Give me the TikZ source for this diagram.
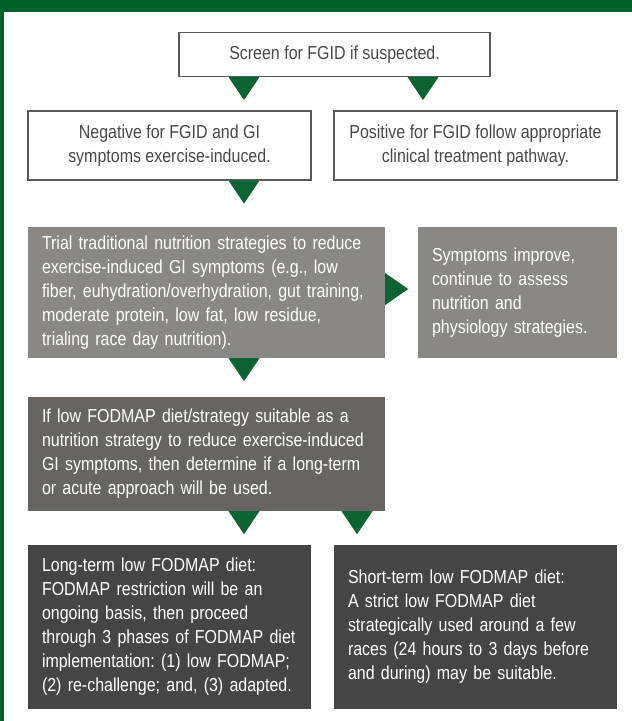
\documentclass[tikz,border=0pt]{standalone}
\usepackage{fontspec}
\setmainfont{Liberation Sans}[FakeStretch=0.85]
\usetikzlibrary{calc}

\definecolor{bandgreen}{RGB}{0,97,43}
\definecolor{headgreen}{RGB}{12,100,52}
\definecolor{boxline}{RGB}{90,90,90}
\definecolor{txtgray}{RGB}{72,72,72}
\definecolor{lightbox}{RGB}{139,135,133}
\definecolor{midbox}{RGB}{104,100,98}
\definecolor{darkbox}{RGB}{69,69,69}

\newcommand{\downhead}[1]{\fill[headgreen] ($(#1)+(-15.5,0)$) -- ++(31,0) -- ++(-15.5,23) -- cycle;}
\newcommand{\righthead}[1]{\fill[headgreen] ($(#1)+(0,-19.5)$) -- ++(0,32) -- ++(23,-16) -- cycle;}

\begin{document}
\frenchspacing
\begin{tikzpicture}[
   x=1pt, y=-1pt,
   every node/.style = {font=\fontsize{18.8}{24}\selectfont, inner sep=0pt},
   outline/.style = {draw=boxline, line width=1.2pt, fill=white, text=txtgray, align=center},
   shaded/.style = {text=white, align=left, inner xsep=14pt}]
   \useasboundingbox (0,0) rectangle (632,721);
   \fill[bandgreen] (0,0) rectangle (632,12);
   \fill[bandgreen] (0,0) rectangle (4,721);

   \coordinate (xa) at (244,0);
   \coordinate (xb) at (423,0);
   \coordinate (xc) at (357,0);

   \node[outline, minimum width=311pt, minimum height=44pt] (screen) at (334.5,54.5) {Screen for FGID if suspected.};

   \node[outline, minimum width=283pt, minimum height=69pt] (neg) at (169.5,145.5) {Negative for FGID and GI\\symptoms exercise-induced.};
   \node[outline, minimum width=283pt, minimum height=69pt] (pos) at (475.5,145.5) {Positive for FGID follow appropriate\\clinical treatment pathway.};

   \node[shaded, fill=lightbox, minimum height=131pt, text width=329pt] (trial) at (206.5,292.5)
      {Trial traditional nutrition strategies to reduce\\exercise-induced GI symptoms (e.g., low\\fiber, euhydration/overhydration, gut training,\\moderate protein, low fat, low residue,\\trialing race day nutrition).};
   \node[shaded, fill=lightbox, minimum height=131pt, text width=171pt] (improve) at (517.5,292.5)
      {Symptoms improve,\\continue to assess\\nutrition and\\physiology strategies.};

   \node[shaded, fill=midbox, minimum height=114pt, text width=329pt] (fodmap) at (206.5,454)
      {If low FODMAP diet/strategy suitable as a\\nutrition strategy to reduce exercise-induced\\GI symptoms, then determine if a long-term\\or acute approach will be used.};

   \node[shaded, fill=darkbox, minimum height=164pt, text width=255pt] (longterm) at (169.5,627)
      {Long-term low FODMAP diet:\\FODMAP restriction will be an\\ongoing basis, then proceed\\through 3 phases of FODMAP diet\\implementation: (1) low FODMAP;\\(2) re-challenge; and, (3) adapted.};
   \node[shaded, fill=darkbox, minimum height=164pt, text width=255pt] (shortterm) at (475.5,627)
      {Short-term low FODMAP diet:\\A strict low FODMAP diet\\strategically used around a few\\races (24 hours to 3 days before\\and during) may be suitable.};

   % arrow heads
   \downhead{xa |- screen.south}
   \downhead{xb |- screen.south}
   \downhead{xa |- neg.south}
   \righthead{trial.east}
   \downhead{xa |- trial.south}
   \downhead{xa |- fodmap.south}
   \downhead{xc |- fodmap.south}
\end{tikzpicture}
\end{document}
